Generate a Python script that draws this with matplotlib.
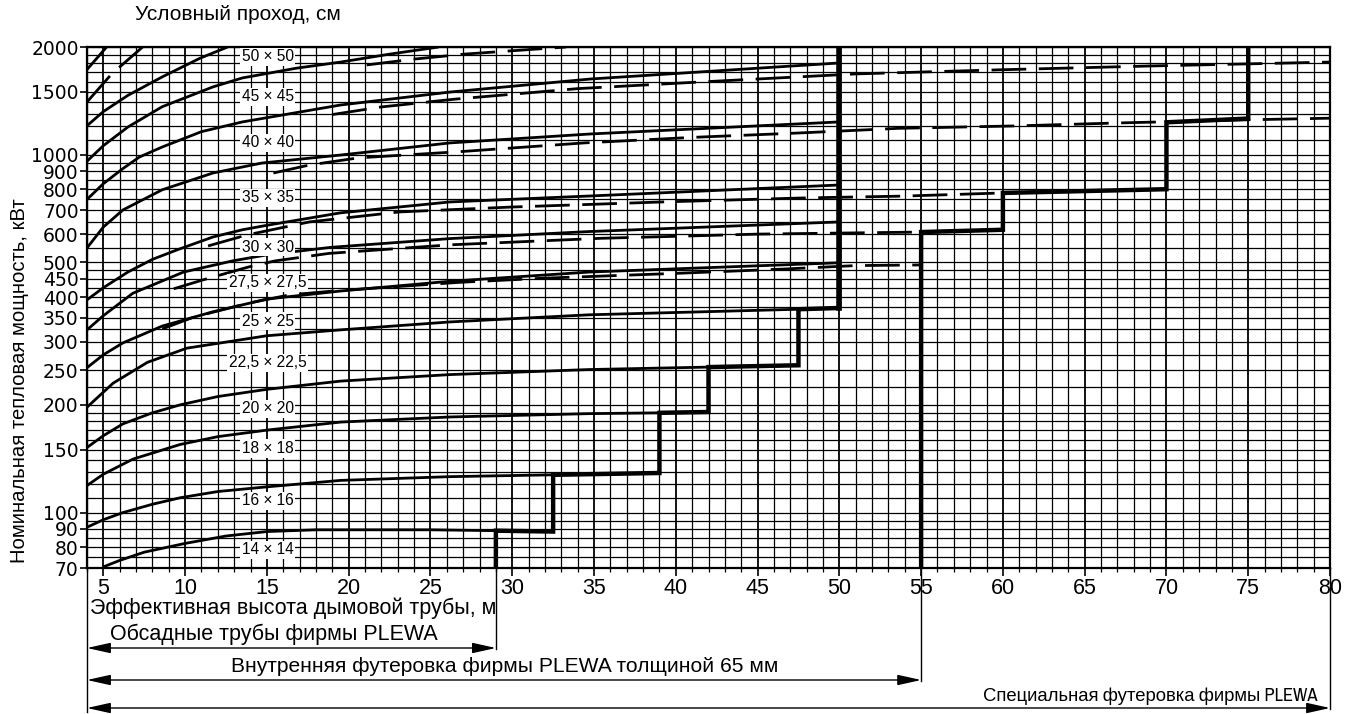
import numpy as np
import matplotlib.pyplot as plt
from matplotlib import font_manager
from matplotlib.ticker import FixedLocator, NullFormatter

plt.rcParams['font.family'] = ['Liberation Sans', 'DejaVu Sans']

# ---- solid curves: effective chimney height (m) -> nominal output (kW)
h_top = [4, 4.6, 5.2]
q_top = [1730, 1860, 2000]
h_50 = [4, 5, 6.5, 8.6, 10.9, 12.6]
q_50 = [1205, 1320, 1465, 1650, 1860, 2000]
h_45 = [4, 5, 6.5, 8.6, 11.7, 13.5, 16.8, 19.5, 22.5, 25.5]
q_45 = [959, 1060, 1195, 1362, 1547, 1639, 1745, 1815, 1910, 2000]
h_40 = [4, 5, 6.2, 7.2, 8.6, 11, 13.5, 19.5, 26.2, 34.8, 50]
q_40 = [750, 830, 915, 985, 1051, 1160, 1235, 1377, 1497, 1628, 1805]
h_35 = [4, 5, 6.2, 8.6, 11.7, 14.7, 19.5, 26.2, 34.8, 50]
q_35 = [549, 628, 701, 798, 889, 948, 998, 1079, 1143, 1235]
h_30 = [4, 5, 6.5, 8, 9.5, 11.7, 13.5, 15, 19.5, 26.2, 34.8, 50]
q_30 = [393, 425, 470, 510, 542, 589, 617, 635, 688, 738, 767, 823]
h_275 = [4, 5, 6.8, 9.9, 12.9, 15, 18.9, 26.2, 34.7, 50]
q_275 = [324, 355, 410, 470, 505, 525, 551, 583, 610, 649]
h_25 = [4, 5, 6.2, 8.6, 11.7, 15, 19.5, 26.2, 34.7, 50]
q_25 = [254, 276, 298, 332, 364, 395, 416, 443, 470, 499]
h_225 = [4, 5, 5.6, 7.7, 10.1, 15, 19.5, 26.2, 34.7, 47.5, 50]
q_225 = [197, 217, 230, 263, 288, 312, 324, 341, 357, 370, 373]
h_20 = [4, 5, 6.2, 8, 9.7, 12, 15, 19.5, 26.2, 34.7, 42, 47.5]
q_20 = [152, 164, 177, 190, 200, 211, 221, 233, 243, 251, 255, 258]
h_18 = [4, 5, 6.8, 9.7, 12, 15, 19.5, 26.2, 34.7, 39, 42]
q_18 = [119, 128, 141, 155, 163, 170, 179, 185, 189, 190, 191]
h_16 = [4, 5, 6.2, 8, 9.7, 12, 15, 19.5, 26.2, 32.5, 39]
q_16 = [91, 95.5, 100, 105.5, 110, 114.5, 118, 123, 126, 127.5, 129]
h_14 = [5, 6, 7.5, 10, 12.5, 15, 18, 25, 29, 32.5]
q_14 = [70.5, 73.5, 77.5, 82, 86, 88.5, 89.5, 89.5, 89, 88.5]

# ---- dashed curves
hd_a = [4, 5.5, 7.4]
qd_a = [1404, 1680, 2000]
hd_b = [21.1, 24, 27.1, 33.3]
qd_b = [1782, 1850, 1911, 2000]
hd_c = [19, 22, 26.5, 34, 41.5, 51, 60, 69, 80]
qd_c = [1295, 1360, 1430, 1530, 1597, 1682, 1728, 1770, 1815]
hd_d = [15.4, 17.6, 20.6, 26.8, 34.4, 41, 47.5, 53.6, 60.9, 66.8, 75, 80]
qd_d = [889, 936, 980, 1020, 1079, 1118, 1150, 1185, 1204, 1226, 1252, 1265]
hd_e = [11.4, 13.8, 17.6, 23.1, 29.9, 39.2, 47.7, 53.8, 60]
qd_e = [556, 597, 649, 692, 714, 738, 757, 766, 782]
hd_f = [9.3, 11.1, 13.9, 15.5, 18.8, 26.2, 35.4, 45, 55]
qd_f = [422, 447, 486, 505, 530, 560, 584, 600, 608]
hd_g = [8.6, 10.4, 11.6, 13.9, 16.4, 19.6, 26.8, 32, 40, 46.5, 51, 55]
qd_g = [326, 350, 362, 385, 406, 418, 440, 452, 466, 479, 490, 492]

# ---- limit lines (steps)
step1_h = [29, 29, 32.5, 32.5, 39, 39, 42, 42, 47.5, 47.5, 50, 50]
step1_q = [70, 89, 88.5, 127.5, 129, 190, 191, 255, 258, 370, 373, 2000]
step2_h = [55, 55, 60, 60, 70, 70, 75, 75]
step2_q = [70, 608, 617, 782, 801, 1232, 1262, 2000]

# ---- size labels
size_names = ['50 × 50', '45 × 45', '40 × 40', '35 × 35', '30 × 30', '27,5 × 27,5',
              '25 × 25', '22,5 × 22,5', '20 × 20', '18 × 18', '16 × 16', '14 × 14']
label_q = [1876, 1450, 1079, 757, 552, 439, 343, 262, 195, 151, 108, 78.6]
label_h = 15.05

y_ticks = [70, 80, 90, 100, 150, 200, 250, 300, 350, 400, 450, 500,
           600, 700, 800, 900, 1000, 1500, 2000]
y_grid = (list(range(70, 100, 5)) + list(range(100, 200, 10)) + list(range(200, 500, 25))
          + list(range(500, 1000, 50)) + list(range(1000, 2001, 100)))

fig = plt.figure(figsize=(13.7, 7.14), dpi=100)
ax = fig.add_axes([87/1370, 1-568/714, (1330-87)/1370, (568-47)/714])
ax.set_yscale('log')
ax.set_xlim(4, 80)
ax.set_ylim(70, 2000)

ax.set_xticks(np.arange(5, 81, 5))
ax.set_xticks(np.arange(4, 81, 1), minor=True)
ax.set_yticks(y_ticks)
ax.set_yticklabels([str(v) for v in y_ticks], family='DejaVu Sans')
ax.yaxis.set_minor_locator(FixedLocator(y_grid))
ax.yaxis.set_minor_formatter(NullFormatter())
ax.tick_params(axis='y', which='minor', length=0)
ax.tick_params(axis='y', which='major', length=5, width=1.2, labelsize=13.5, pad=1)
ax.tick_params(axis='x', which='major', length=6, width=1.2, labelsize=15.5, pad=1)
ax.tick_params(axis='x', which='minor', length=3, width=0.9)
ax.xaxis.grid(which='major', color='black', lw=1.3)
ax.xaxis.grid(which='minor', color='black', lw=0.9)
ax.yaxis.grid(which='both', color='black', lw=0.9)
ax.set_axisbelow(True)
for s in ax.spines.values():
    s.set_linewidth(1.6)

solid = [(h_top, q_top), (h_50, q_50), (h_45, q_45), (h_40, q_40), (h_35, q_35),
         (h_30, q_30), (h_275, q_275), (h_25, q_25), (h_225, q_225), (h_20, q_20),
         (h_18, q_18), (h_16, q_16), (h_14, q_14)]
for h, q in solid:
    ax.plot(h, q, color='black', lw=2.0, zorder=3, solid_capstyle='butt',
            solid_joinstyle='round')

dashed = [(hd_a, qd_a), (hd_b, qd_b), (hd_c, qd_c), (hd_d, qd_d),
          (hd_e, qd_e), (hd_f, qd_f), (hd_g, qd_g)]
for h, q in dashed:
    ax.plot(h, q, color='black', lw=2.0, ls=(0, (12.5, 4.5)), zorder=3)

ax.plot(step1_h, step1_q, color='black', lw=3.2, zorder=4, solid_joinstyle='miter')
ax.plot(step2_h, step2_q, color='black', lw=3.2, zorder=4, solid_joinstyle='miter')
ax.plot([50, 50], [373, 2000], color='black', lw=4.0, zorder=4)

for name, q in zip(size_names, label_q):
    ax.text(label_h, q, name, ha='center', va='center', fontsize=11.2, zorder=6,
            bbox=dict(boxstyle='square,pad=0.1', fc='white', ec='none'))

# ---- range annotations under the axis
tr = ax.get_xaxis_transform()
def frac(py):
    return (568 - py) / 521

ax.plot([4, 4], [0, frac(712)], transform=tr, clip_on=False, color='black', lw=1.0)
ax.plot([29, 29], [0, frac(649)], transform=tr, clip_on=False, color='black', lw=1.0)
ax.plot([55, 55], [0, frac(681)], transform=tr, clip_on=False, color='black', lw=1.0)
ax.plot([80, 80], [0, frac(709)], transform=tr, clip_on=False, color='black', lw=1.0)

arrows = [(29, 648), (55, 680), (80, 708)]
for x_end, py in arrows:
    ax.annotate('', xy=(4, frac(py)), xytext=(x_end, frac(py)), xycoords=tr, textcoords=tr,
                annotation_clip=False,
                arrowprops=dict(arrowstyle='<|-|>,head_length=0.9,head_width=0.2',
                                color='black', lw=1.0, shrinkA=0, shrinkB=0,
                                mutation_scale=16))

ax.text(4.2, frac(608), 'Эффективная высота дымовой трубы, м', transform=tr,
        ha='left', va='center', fontsize=15.5)
ax.text(15.4, frac(634), 'Обсадные трубы фирмы PLEWA', transform=tr,
        ha='center', va='center', fontsize=15.5)
ax.text(29.55, frac(667), 'Внутренняя футеровка фирмы PLEWA толщиной 65 мм', transform=tr,
        ha='center', va='center', fontsize=15.1)

# the last caption is set in a narrow face in the original
narrow = None
for f in font_manager.fontManager.ttflist:
    if ('Narrow' in f.name or 'Condensed' in f.name) and 'Mono' not in f.name \
            and 'Serif' not in f.name and f.style == 'normal' and f.weight in (400, 'normal', 'regular'):
        narrow = f.name
        break
spec_family = [narrow, 'Liberation Sans'] if narrow else ['Liberation Sans']
spec = ax.text(69.0, frac(696), 'Специальная футеровка фирмы PLEWA', transform=tr,
               ha='center', va='center', fontsize=15.5, family=spec_family)
fig.canvas.draw()
w = spec.get_window_extent().width
spec.set_fontsize(min(15.5, 15.5 * 335 / w))

fig.text(135/1370, 1-14/714, 'Условный проход, см', fontsize=15, ha='left', va='center')
fig.text(20/1370, 1-381/714, 'Номинальная тепловая мощность, кВт', fontsize=14.6,
         rotation=90, ha='center', va='center')

fig.savefig('out.png', dpi=100)
